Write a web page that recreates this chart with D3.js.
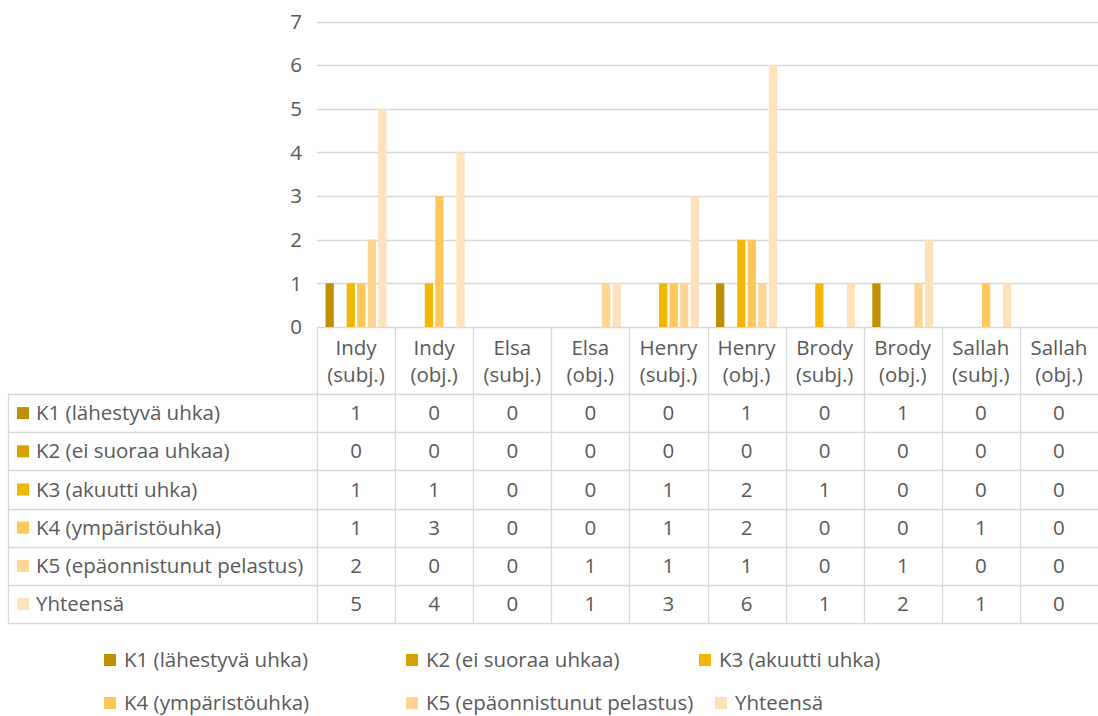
<!DOCTYPE html>
<html>
<head>
<meta charset="utf-8">
<script src="https://cdn.jsdelivr.net/npm/d3@7"></script>
<style>
  html, body { margin: 0; padding: 0; background: #fff; }
  svg { display: block; }
  text { font-family: "Open Sans", sans-serif; fill: #595959; }
</style>
</head>
<body>
<svg id="chart" width="1098" height="716"></svg>
<script>
// Categories (two-line axis labels)
const categories = [
  ["Indy", "(subj.)"], ["Indy", "(obj.)"],
  ["Elsa", "(subj.)"], ["Elsa", "(obj.)"],
  ["Henry", "(subj.)"], ["Henry", "(obj.)"],
  ["Brody", "(subj.)"], ["Brody", "(obj.)"],
  ["Sallah", "(subj.)"], ["Sallah", "(obj.)"]
];
const seriesNames = [
  "K1 (lähestyvä uhka)",
  "K2 (ei suoraa uhkaa)",
  "K3 (akuutti uhka)",
  "K4 (ympäristöuhka)",
  "K5 (epäonnistunut pelastus)",
  "Yhteensä"
];
const k1 = [1, 0, 0, 0, 0, 1, 0, 1, 0, 0];
const k2 = [0, 0, 0, 0, 0, 0, 0, 0, 0, 0];
const k3 = [1, 1, 0, 0, 1, 2, 1, 0, 0, 0];
const k4 = [1, 3, 0, 0, 1, 2, 0, 0, 1, 0];
const k5 = [2, 0, 0, 1, 1, 1, 0, 1, 0, 0];
const yhteensa = [5, 4, 0, 1, 3, 6, 1, 2, 1, 0];
const yTicks = [0, 1, 2, 3, 4, 5, 6, 7];
const colors = ["#BF8F00", "#D9A100", "#F2B700", "#FFC65A", "#FFD593", "#FFE1BB"];

const seriesValues = [k1, k2, k3, k4, k5, yhteensa];
const series = seriesNames.map((name, i) => ({ name, values: seriesValues[i], color: colors[i] }));

const svg = d3.select("#chart");
const gridColor = "#d9d9d9";
const fs = 20.5;

// Plot area
const plotLeft = 317, plotRight = 1098, plotTop = 21.5, plotBottom = 327;
const x = d3.scaleBand().domain(d3.range(categories.length)).range([plotLeft, plotRight]).paddingInner(0).paddingOuter(0);
const y = d3.scaleLinear().domain([0, 7]).range([plotBottom, plotTop]);
const groupPad = 0.11;
const xs = d3.scaleBand().domain(d3.range(series.length))
  .range([x.bandwidth() * groupPad, x.bandwidth() * (1 - groupPad)]).paddingInner(0.22).paddingOuter(0);

// Gridlines
svg.append("g").selectAll("line").data(yTicks).join("line")
  .attr("x1", plotLeft).attr("x2", plotRight)
  .attr("y1", d => Math.round(y(d)) + 0.5).attr("y2", d => Math.round(y(d)) + 0.5)
  .attr("stroke", gridColor).attr("stroke-width", 1.3);

// Y axis labels
svg.append("g").selectAll("text").data(yTicks).join("text")
  .attr("x", 296).attr("y", d => y(d)).attr("dy", "0.35em")
  .attr("text-anchor", "middle").attr("font-size", fs).text(d => d);

// Bars
const groups = svg.append("g").selectAll("g").data(series).join("g").attr("fill", d => d.color);
groups.selectAll("rect").data((s, si) => s.values.map((v, ci) => ({ v, ci, si }))).join("rect")
  .attr("x", d => x(d.ci) + xs(d.si))
  .attr("width", xs.bandwidth())
  .attr("y", d => y(d.v))
  .attr("height", d => y(0) - y(d.v));

// Data table
const tableLeft = 8, headerBottom = 394, rowH = 38.2;
const tableBottom = headerBottom + rowH * series.length;
const tbl = svg.append("g");

// Vertical column dividers
const colEdges = d3.range(categories.length).map(i => x(i));
tbl.selectAll("line.v").data(colEdges).join("line").attr("class", "v")
  .attr("x1", d => Math.round(d) + 0.5).attr("x2", d => Math.round(d) + 0.5)
  .attr("y1", plotBottom).attr("y2", tableBottom)
  .attr("stroke", gridColor).attr("stroke-width", 1.3);
tbl.append("line")
  .attr("x1", tableLeft + 0.5).attr("x2", tableLeft + 0.5)
  .attr("y1", headerBottom).attr("y2", tableBottom)
  .attr("stroke", gridColor).attr("stroke-width", 1.3);

// Horizontal row borders
const rowEdges = d3.range(series.length + 1).map(i => headerBottom + i * rowH);
tbl.selectAll("line.h").data(rowEdges).join("line").attr("class", "h")
  .attr("x1", tableLeft).attr("x2", plotRight)
  .attr("y1", d => Math.round(d) + 0.5).attr("y2", d => Math.round(d) + 0.5)
  .attr("stroke", gridColor).attr("stroke-width", 1.3);

// Header (category labels)
const hdr = tbl.selectAll("g.hdr").data(categories).join("g").attr("class", "hdr");
hdr.append("text").attr("x", (d, i) => x(i) + x.bandwidth() / 2).attr("y", 355)
  .attr("text-anchor", "middle").attr("font-size", fs).text(d => d[0]);
hdr.append("text").attr("x", (d, i) => x(i) + x.bandwidth() / 2).attr("y", 382)
  .attr("text-anchor", "middle").attr("font-size", fs).text(d => d[1]);

// Row labels with colour keys, and values
const rows = tbl.selectAll("g.row").data(series).join("g").attr("class", "row")
  .attr("transform", (d, i) => `translate(0,${headerBottom + i * rowH + rowH / 2})`);
rows.append("rect").attr("x", 17).attr("y", -6).attr("width", 12).attr("height", 12).attr("fill", d => d.color);
rows.append("text").attr("x", 36).attr("dy", "0.35em").attr("font-size", fs).text(d => d.name);
rows.selectAll("text.val").data(d => d.values).join("text").attr("class", "val")
  .attr("x", (v, i) => x(i) + x.bandwidth() / 2).attr("dy", "0.35em")
  .attr("text-anchor", "middle").attr("font-size", fs).text(v => v);

// Legend
const legendPos = [[104, 660], [406, 660], [699, 660], [104, 703], [406, 703], [715, 703]];
const leg = svg.append("g").selectAll("g").data(series).join("g")
  .attr("transform", (d, i) => `translate(${legendPos[i][0]},${legendPos[i][1]})`);
leg.append("rect").attr("x", 0).attr("y", -6).attr("width", 12).attr("height", 12).attr("fill", d => d.color);
leg.append("text").attr("x", 20).attr("dy", "0.35em").attr("font-size", fs).text(d => d.name);
</script>
</body>
</html>
